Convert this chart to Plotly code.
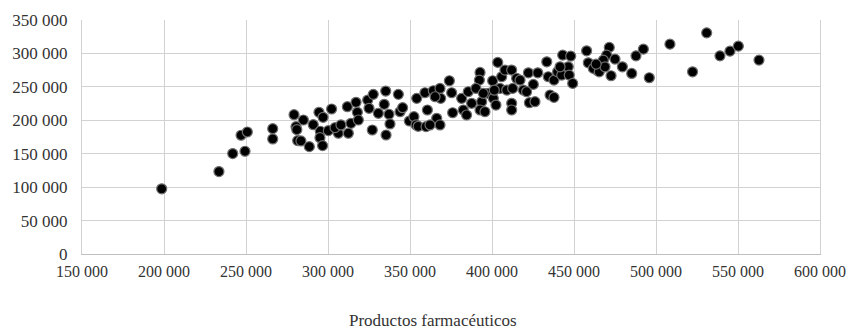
import plotly.graph_objects as go

# Productos farmacéuticos (x) vs. second series (y)
x_vals = [
    198600, 233500, 241900, 249400, 247000, 250800, 266300, 266300, 279300, 285000,
    280500, 281500, 283500, 288600, 294500, 297000, 302200, 291000, 295300, 295100,
    296700, 300200, 306300, 281000, 304300, 307900, 312400, 311800, 317100, 317900,
    314000, 318500, 324200, 325000, 327600, 327000, 330700, 334300, 335200, 335400,
    337200, 337800, 342900, 343900, 345500, 349600, 352400, 354100, 353700, 355000,
    359800, 359100, 360600, 364200, 368300, 374000, 366300, 368300, 368700, 375400,
    376000, 381500, 382500, 384500, 385500, 365300, 362200, 387600, 392700, 392300,
    393700, 392700, 395700, 397700, 400400, 400800, 402400, 403500, 405900, 404900,
    409000, 407900, 412000, 412600, 412000, 412000, 415000, 417100, 419100, 422200,
    422800, 426200, 425200, 427900, 433400, 434300, 435400, 437800, 437800, 440000,
    443100, 448000, 446500, 442500, 447100, 449200, 457700, 458700, 463800, 461800,
    465400, 471500, 469900, 467900, 475000, 472600, 468900, 479500, 485200, 487800,
    492300, 495900, 508500, 522300, 530900, 539000, 545100, 550200, 562800, 390200,
    394700, 401400, 421100, 441500, 463500,
]
y_vals = [
    97500, 123300, 150200, 153700, 177600, 182500, 187500, 172100, 208400, 200400,
    190500, 169600, 169100, 160600, 211900, 204500, 216900, 193400, 183600, 174000,
    162100, 184500, 180600, 186000, 189000, 193000, 180600, 220300, 226900, 211900,
    195500, 200400, 230300, 217900, 238800, 185500, 210400, 223900, 243700, 178000,
    209000, 194500, 238800, 212800, 218800, 198900, 205400, 232800, 193000, 191000,
    190500, 241200, 215400, 244200, 247700, 259100, 203000, 193000, 232800, 241200,
    211300, 232800, 215400, 207900, 242700, 235200, 193000, 225400, 271600, 260100,
    227800, 215400, 212800, 240300, 259100, 232800, 222800, 286600, 265100, 247700,
    245200, 275100, 275100, 247700, 225400, 215400, 262700, 260100, 245200, 271000,
    226300, 227800, 253700, 271000, 287500, 265100, 237800, 234300, 260100, 272500,
    297500, 296000, 280000, 267600, 267600, 255200, 303900, 286000, 275100, 277600,
    272500, 309000, 297500, 290000, 291500, 266600, 280000, 280000, 270100, 296400,
    306400, 263600, 313900, 272500, 330800, 296400, 303400, 310900, 290000, 247700,
    240300, 245000, 242700, 280000, 284000,
]

x_title = "Productos farmacéuticos"
x_ticks = [150000, 200000, 250000, 300000, 350000, 400000, 450000, 500000, 550000, 600000]
y_ticks = [0, 50000, 100000, 150000, 200000, 250000, 300000, 350000]

FONT = "Liberation Serif"
TEXT = "#333333"
GRID = "#d2d2d2"

fig = go.Figure(
    go.Scatter(
        x=x_vals, y=y_vals, mode="markers",
        marker=dict(size=10, color="#000000", line=dict(color="#6e6e6e", width=1.2)),
        hoverinfo="x+y",
    )
)

fig.update_layout(
    template="none",
    width=849, height=334,
    margin=dict(l=82, r=29, t=20, b=80, pad=0),
    paper_bgcolor="white", plot_bgcolor="white",
    separators=", ",
    showlegend=False,
    font=dict(family=FONT, size=17, color=TEXT),
    annotations=[dict(
        text=x_title, xref="paper", yref="paper", x=0.475, y=-0.285,
        xanchor="center", yanchor="middle", showarrow=False,
        font=dict(family=FONT, size=17, color=TEXT),
    )],
)
fig.update_xaxes(
    range=[150000, 600000], tickmode="array", tickvals=x_ticks, tickformat=",d",
    showgrid=True, gridcolor=GRID, gridwidth=1,
    showline=True, linecolor="#bfbfbf", linewidth=1, zeroline=False,
    ticks="outside", ticklen=3, tickcolor="rgba(0,0,0,0)",
    tickfont=dict(family=FONT, size=16, color=TEXT),
    automargin=False,
)
fig.update_yaxes(
    range=[0, 350000], tickmode="array", tickvals=y_ticks, tickformat=",d",
    showgrid=True, gridcolor=GRID, gridwidth=1,
    showline=True, mirror=True, linecolor=GRID, linewidth=1, zeroline=False,
    ticks="outside", ticklen=10, tickcolor="rgba(0,0,0,0)",
    tickfont=dict(family=FONT, size=17, color=TEXT),
    automargin=False,
)

fig.write_html("out.html")
